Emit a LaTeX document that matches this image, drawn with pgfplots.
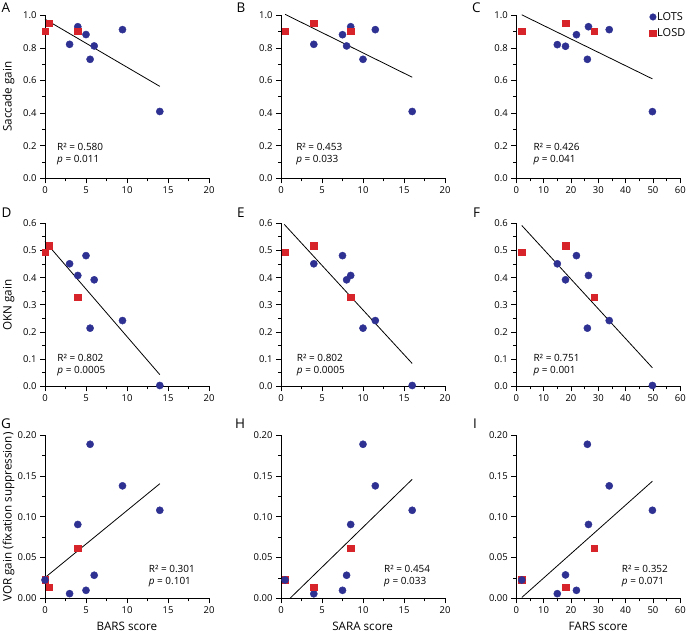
\documentclass[border=0pt]{standalone}
\usepackage{fontspec}
\setmainfont{Open Sans}
\usepackage{pgfplots}
\pgfplotsset{compat=1.18}
\definecolor{ptblue}{RGB}{46,49,146}
\definecolor{ptred}{RGB}{214,36,42}
\newcommand{\ann}{\fontsize{10}{11}\selectfont}
\pgfplotsset{
  panel/.style={
    scale only axis, width=164bp, height=163bp,
    axis lines=left, axis line style={-, line width=0.9pt, black},
    tick align=outside, major tick length=5bp, minor tick length=3bp,
    tick style={line width=0.8pt, black},
    tick label style={font=\fontsize{9.5}{10}\selectfont},
    /pgf/number format/assume math mode=true,
    clip=false, minor x tick num=1, minor y tick num=1,
    anchor=south west,
  },
  xbars/.style={xmin=0, xmax=20, xtick={0,5,10,15,20}},
  xfars/.style={xmin=0, xmax=60, xtick={0,10,20,30,40,50,60}},
  ysac/.style={ymin=0, ymax=1, ytick={0,0.2,0.4,0.6,0.8,1.0},
    yticklabel style={/pgf/number format/.cd, fixed, fixed zerofill, precision=1}},
  yokn/.style={ymin=0, ymax=0.6, ytick={0,0.1,0.2,0.3,0.4,0.5,0.6},
    yticklabel style={/pgf/number format/.cd, fixed, fixed zerofill, precision=1}},
  yvor/.style={ymin=0, ymax=0.2, ytick={0,0.05,0.10,0.15,0.20},
    yticklabel style={/pgf/number format/.cd, fixed, fixed zerofill, precision=2}},
  bluem/.style={only marks, mark=*, mark size=3.6pt, color=ptblue, mark options={fill=ptblue, draw=ptblue}},
  redm/.style={only marks, mark=square*, mark size=3.3pt, color=ptred, mark options={fill=ptred, draw=ptred}},
  regl/.style={black, line width=0.8pt, no marks, forget plot},
}
\begin{document}
\begin{tikzpicture}
\useasboundingbox (0,0) rectangle (688bp,-634bp);
% ---------------- Row 1 ----------------
\begin{axis}[panel, xbars, ysac, at={(45bp,-178.3bp)}]
\addplot[regl] coordinates {(0,0.976) (14,0.564)};
\addplot[bluem] coordinates {(3,0.822) (4,0.930) (5,0.882) (5.5,0.730) (6,0.812) (9.45,0.912) (14,0.410)};
\addplot[redm] coordinates {(0,0.903) (0.5,0.951) (4,0.902)};
\node[anchor=base west, inner sep=0, font=\ann] at (rel axis cs:0.073,0.169) {R² = 0.580};
\node[anchor=base west, inner sep=0, font=\ann] at (rel axis cs:0.073,0.094) {\textit{p} = 0.011};
\end{axis}
\begin{axis}[panel, xbars, ysac, at={(281bp,-178.3bp)}]
\addplot[regl] coordinates {(0.5,1.006) (16,0.620)};
\addplot[bluem] coordinates {(4,0.822) (7.5,0.881) (8.5,0.930) (8,0.812) (10,0.730) (11.5,0.912) (16,0.410)};
\addplot[redm] coordinates {(0.5,0.903) (4,0.951) (8.5,0.902)};
\node[anchor=base west, inner sep=0, font=\ann] at (rel axis cs:0.092,0.169) {R² = 0.453};
\node[anchor=base west, inner sep=0, font=\ann] at (rel axis cs:0.092,0.094) {\textit{p} = 0.033};
\end{axis}
\begin{axis}[panel, xfars, ysac, at={(516.3bp,-178.3bp)},
  legend style={draw=none, fill=none, inner sep=0pt, font=\fontsize{11}{12}\selectfont,
    at={(rel axis cs:0.812,1.026)}, anchor=north west, row sep=5pt,
    nodes={inner sep=1pt}},
  legend cell align=left,
  legend image code/.code={\draw[mark size=3.3pt] plot coordinates {(0cm,0cm)};}]
\addplot[regl] coordinates {(2,1.003) (49.8,0.610)};
\addplot[bluem] coordinates {(15,0.820) (18,0.810) (22,0.881) (26.4,0.930) (26,0.730) (34,0.912) (49.8,0.409)};
\addplot[redm] coordinates {(2,0.903) (18,0.951) (28.5,0.902)};
\legend{LOTS, LOSD}
\node[anchor=base west, inner sep=0, font=\ann] at (rel axis cs:0.104,0.169) {R² = 0.426};
\node[anchor=base west, inner sep=0, font=\ann] at (rel axis cs:0.104,0.094) {\textit{p} = 0.041};
\end{axis}
% ---------------- Row 2 ----------------
\begin{axis}[panel, xbars, yokn, at={(45bp,-386.3bp)}]
\addplot[regl] coordinates {(0,0.533) (14,0.043)};
\addplot[bluem] coordinates {(3,0.451) (4,0.408) (5,0.481) (5.5,0.214) (6,0.392) (9.45,0.242) (14,0.003)};
\addplot[redm] coordinates {(0,0.493) (0.5,0.518) (4,0.328)};
\node[anchor=base west, inner sep=0, font=\ann] at (rel axis cs:0.075,0.151) {R² = 0.802};
\node[anchor=base west, inner sep=0, font=\ann] at (rel axis cs:0.075,0.076) {\textit{p} = 0.0005};
\end{axis}
\begin{axis}[panel, xbars, yokn, at={(281bp,-386.3bp)}]
\addplot[regl] coordinates {(0.4,0.596) (16,0.084)};
\addplot[bluem] coordinates {(4,0.451) (7.5,0.481) (8,0.392) (8.5,0.408) (10,0.214) (11.5,0.242) (16,0.003)};
\addplot[redm] coordinates {(0.5,0.493) (4,0.518) (8.5,0.328)};
\node[anchor=base west, inner sep=0, font=\ann] at (rel axis cs:0.096,0.151) {R² = 0.802};
\node[anchor=base west, inner sep=0, font=\ann] at (rel axis cs:0.096,0.076) {\textit{p} = 0.0005};
\end{axis}
\begin{axis}[panel, xfars, yokn, at={(516.3bp,-386.3bp)}]
\addplot[regl] coordinates {(2,0.592) (49.8,0.068)};
\addplot[bluem] coordinates {(15,0.451) (18,0.392) (22,0.481) (26.4,0.408) (26,0.214) (34,0.242) (49.8,0.003)};
\addplot[redm] coordinates {(2,0.493) (18,0.518) (28.5,0.328)};
\node[anchor=base west, inner sep=0, font=\ann] at (rel axis cs:0.104,0.151) {R² = 0.751};
\node[anchor=base west, inner sep=0, font=\ann] at (rel axis cs:0.104,0.076) {\textit{p} = 0.001};
\end{axis}
% ---------------- Row 3 ----------------
\begin{axis}[panel, xbars, yvor, at={(45bp,-598.3bp)}]
\addplot[regl] coordinates {(0,0.0254) (14,0.1406)};
\addplot[bluem] coordinates {(3,0.0057) (4,0.0906) (5,0.0098) (5.5,0.189) (6,0.0283) (9.45,0.138) (14,0.108)};
\addplot[redm] coordinates {(0,0.0225) (0.5,0.0135) (4,0.0615)};
\addplot[bluem, forget plot] coordinates {(0,0.0225)};
\node[anchor=base west, inner sep=0, font=\ann] at (rel axis cs:0.632,0.16) {R² = 0.301};
\node[anchor=base west, inner sep=0, font=\ann] at (rel axis cs:0.632,0.085) {\textit{p} = 0.101};
\end{axis}
\begin{axis}[panel, xbars, yvor, at={(281bp,-598.3bp)}]
\addplot[regl] coordinates {(1.1,0) (16,0.146)};
\addplot[bluem] coordinates {(4,0.0055) (7.5,0.0098) (8,0.0283) (8.5,0.0906) (10,0.189) (11.5,0.138) (16,0.108)};
\addplot[redm] coordinates {(0.5,0.0225) (4,0.0135) (8.5,0.0615)};
\addplot[bluem, forget plot] coordinates {(0.5,0.0225)};
\node[anchor=base west, inner sep=0, font=\ann] at (rel axis cs:0.628,0.16) {R² = 0.454};
\node[anchor=base west, inner sep=0, font=\ann] at (rel axis cs:0.628,0.085) {\textit{p} = 0.033};
\end{axis}
\begin{axis}[panel, xfars, yvor, at={(516.3bp,-598.3bp)}]
\addplot[regl] coordinates {(2,0.001) (49.8,0.1437)};
\addplot[bluem] coordinates {(15,0.0057) (18,0.0287) (22,0.0098) (26.4,0.0906) (26,0.189) (34,0.138) (49.8,0.108)};
\addplot[redm] coordinates {(2,0.0225) (18,0.0135) (28.5,0.0615)};
\addplot[bluem, forget plot] coordinates {(2,0.0225)};
\node[anchor=base west, inner sep=0, font=\ann] at (rel axis cs:0.643,0.16) {R² = 0.352};
\node[anchor=base west, inner sep=0, font=\ann] at (rel axis cs:0.643,0.085) {\textit{p} = 0.071};
\end{axis}
% ---------------- Labels ----------------
\begin{scope}[every node/.style={inner sep=0, font=\fontsize{13.5}{15}\selectfont, anchor=base west}]
\node at (1.5bp,-12.7bp) {A};
\node at (236.5bp,-12.7bp) {B};
\node at (472bp,-12.7bp) {C};
\node at (1.5bp,-217.7bp) {D};
\node at (237bp,-217.7bp) {E};
\node at (473bp,-217.7bp) {F};
\node at (1bp,-428.5bp) {G};
\node at (235bp,-428.5bp) {H};
\node at (473bp,-428.5bp) {I};
\end{scope}
\begin{scope}[every node/.style={inner sep=0, font=\fontsize{11.7}{13}\selectfont}]
\node[rotate=90, anchor=base] at (11.5bp,-96.8bp) {Saccade gain};
\node[rotate=90, anchor=base] at (11.5bp,-305bp) {OKN gain};
\node[rotate=90, anchor=base] at (11.5bp,-517bp) {VOR gain (fixation suppression)};
\node[anchor=base] at (127bp,-630.5bp) {BARS score};
\node[anchor=base] at (362.6bp,-630.5bp) {SARA score};
\node[anchor=base] at (598.2bp,-630.5bp) {FARS score};
\end{scope}
\end{tikzpicture}
\end{document}
